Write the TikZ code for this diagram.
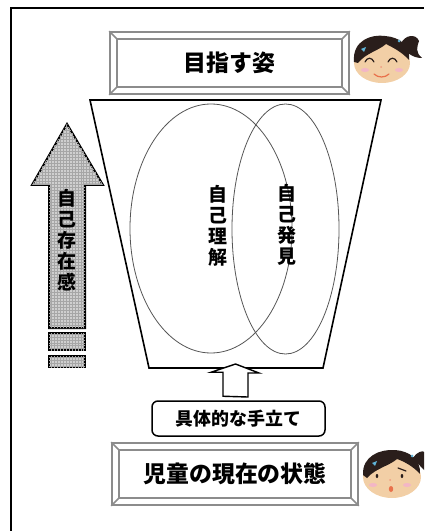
\documentclass[tikz,border=0pt]{standalone}
\usepackage{fontspec}
\newfontfamily\jp{Noto Sans CJK JP}[BoldFont={Noto Sans CJK JP Black}]
\usetikzlibrary{calc,patterns,shapes.geometric}
\definecolor{BevelGray}{HTML}{8C8C8C}
\definecolor{RingGray}{HTML}{555555}
\definecolor{Skin}{HTML}{F2CFA6}
\definecolor{Hair}{HTML}{2A1E1B}
\definecolor{Blush}{HTML}{F3B6C6}
\definecolor{Lip}{HTML}{E9714B}
\definecolor{Tie}{HTML}{5FB4D8}
\tikzset{
  frameline/.style={draw=black,line width=2.2bp},
  plaquebox/.style={draw=BevelGray,line width=1.6bp,inner sep=0pt,
    font=\jp\bfseries\fontsize{23}{23}\selectfont},
  bevel/.style={draw=BevelGray,line width=1.6bp},
  funnelline/.style={draw=black,line width=1.6bp,line join=miter},
  ring/.style={draw=RingGray,line width=0.8bp,ellipse,inner sep=0pt},
  vlabel/.style={align=center,inner sep=0pt,
    font=\jp\bfseries\fontsize{19}{21}\selectfont},
  meansbox/.style={draw=black,line width=1.5bp,rounded corners=6bp,
    minimum width=173bp,minimum height=35bp,inner sep=0pt,
    font=\jp\bfseries\fontsize{18}{18}\selectfont},
  growarrow/.style={draw=black,line width=2bp,fill=gray!38,
    postaction={pattern=grid,pattern color=gray!70}},
  hollowarrow/.style={draw=black,line width=1.4bp,fill=white},
  eyeline/.style={draw=Hair,line width=1.2bp,line cap=round}
}
% plaque with bevelled frame: name, position, width, height, text
\newcommand{\plaque}[5]{%
  \node[plaquebox,minimum width=#3,minimum height=#4] (#1) at #2 {#5};
  \draw[bevel] ($(#1.north west)+(8,8)$) rectangle ($(#1.south east)+(-8,-8)$);
  \draw[bevel] (#1.north west) -- ++(8,8) (#1.north east) -- ++(-8,8)
    (#1.south west) -- ++(8,-8) (#1.south east) -- ++(-8,-8);
}

\begin{document}
\begin{tikzpicture}[x=1bp,y=-1bp]
  \useasboundingbox (0,0) rectangle (424,531);
  \draw[frameline] (11,531) -- (11,8) -- (424,8);

  \plaque{goal}{(229.5,63)}{239bp}{62bp}{目指す姿}
  \plaque{state}{(235,474)}{246bp}{62bp}{児童の現在の状態}

  % funnel
  \coordinate (ftl) at (90,100);
  \coordinate (ftr) at (381,100);
  \coordinate (fbr) at (323,368);
  \coordinate (fbl) at (149,368);
  \draw[funnelline] (ftl) -- (ftr) -- (fbr) -- (fbl) -- cycle;
  \coordinate (fbot) at (235.5,368);

  \node[ring,minimum width=162bp,minimum height=249bp] (under) at (211,228.5) {};
  \node[ring,minimum width=107bp,minimum height=250bp] (disc) at (285.5,229) {};
  \node[vlabel] (underlbl) at (218,226) {自\\己\\理\\解};
  \node[vlabel] (disclbl) at (287,225) {自\\己\\発\\見};

  \node[meansbox] (means) at (238.5,418.5) {具体的な手立て};
  \draw[hollowarrow] ($(means.north)+(-15.5,-4)$) -- ++(0,-24) -- ++(-12,0)
    -- ($(fbot)+(0,-4)$) -- ++(23.5,9) -- ++(-11,0) -- ++(0,24) -- cycle;

  % growth arrow on the left
  \draw[growarrow] (49,328) -- (49,185) -- (32,185) -- (67,124)
    -- (103,185) -- (85,185) -- (85,328) -- cycle;
  \draw[growarrow] (49,333) rectangle (85,350);
  \draw[growarrow] (49,356) rectangle (85,367);
  \node[vlabel] (exist) at (67,240.5) {自\\己\\存\\在\\感};

  % smiling girl
  \fill[Skin] (382,63) ellipse (28 and 20);
  \fill[Hair] (354,62) .. controls (352,40) and (372,34) .. (385,36)
    .. controls (400,37) and (411,46) .. (409,60)
    .. controls (402,52) and (392,47) .. (386,44)
    .. controls (378,51) and (366,53) .. (358,63) -- cycle;
  \fill[Hair] (401,44) .. controls (404,35) and (416,33) .. (419,41)
    .. controls (417,47) and (415,52) .. (422,58)
    .. controls (412,58) and (407,52) .. (405,50) -- cycle;
  \fill[Tie] (361,49) -- (366,47) -- (364,52) -- cycle;
  \fill[Tie] (399,41) circle (1.5);
  \draw[eyeline] (365,62) .. controls (367,57) and (372,57) .. (374,62);
  \draw[eyeline] (388,62) .. controls (390,57) and (395,57) .. (397,62);
  \fill[Blush] (365,70) ellipse (4 and 2);
  \fill[Blush] (399,70) ellipse (4 and 2);
  \fill[Lip!70] (381,67) circle (1);
  \draw[Lip,line width=1.2bp,line cap=round]
    (374,74) .. controls (378,78) and (385,78) .. (389,74);

  % worried girl
  \fill[Skin] (392,477) ellipse (29 and 21);
  \fill[Hair] (363,475) .. controls (362,456) and (380,449) .. (395,450)
    .. controls (410,451) and (421,460) .. (420,474)
    .. controls (413,466) and (403,461) .. (397,459)
    .. controls (389,466) and (376,468) .. (367,478) -- cycle;
  \fill[Hair] (413,458) .. controls (416,452) and (424,450) .. (424,452)
    -- (424,470) .. controls (420,466) and (417,462) .. (415,461) -- cycle;
  \fill[Tie] (372,463) -- (377,461) -- (375,466) -- cycle;
  \fill[Tie] (412,456) circle (1.5);
  \draw[eyeline] (372,471) -- (380,468);
  \draw[eyeline] (398,468) -- (406,471);
  \fill[Hair] (377,476) ellipse (1.3 and 2);
  \fill[Hair] (402,476) ellipse (1.3 and 2);
  \fill[Blush] (373,485) ellipse (4 and 2);
  \fill[Blush] (407,485) ellipse (4 and 2);
  \fill[Lip!70] (390,480) circle (1);
  \fill[Lip] (391,489) ellipse (2.2 and 3);
\end{tikzpicture}
\end{document}
